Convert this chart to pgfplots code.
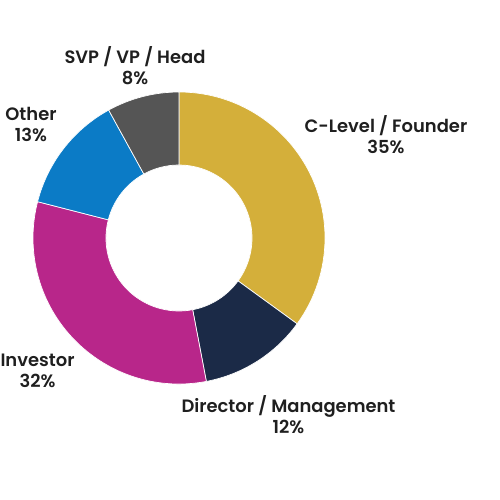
\documentclass[border=0pt]{standalone}
\usepackage{pgfplots}
\usepackage{pgfplotstable}
\pgfplotsset{compat=1.18}
\usepackage{fontspec}
\setmainfont{Poppins}[BoldFont={* SemiBold}]
\definecolor{col0}{HTML}{D4AF3A}
\definecolor{col1}{HTML}{1B2A47}
\definecolor{col2}{HTML}{B8268A}
\definecolor{col3}{HTML}{0B7BC6}
\definecolor{col4}{HTML}{555555}
\definecolor{txt}{HTML}{1F1F1F}
\pgfplotstableread[col sep=comma]{
label,value
C-Level / Founder,35
Director / Management,12
Investor,32
Other,13
SVP / VP / Head,8
}\slices
\xdef\cum{90}
\pgfplotsforeachungrouped \i in {0,...,4}{%
  \pgfplotstablegetelem{\i}{value}\of\slices
  \pgfmathsetmacro\newa{\cum-3.6*\pgfplotsretval}%
  \expandafter\xdef\csname sa\i\endcsname{\cum}%
  \expandafter\xdef\csname ea\i\endcsname{\newa}%
  \xdef\cum{\newa}%
}
\def\Ro{105.12pt}
\def\Ri{52.56pt}
\begin{document}
\begin{tikzpicture}
\begin{axis}[
  scale only axis, width=360pt, height=360pt,
  xmin=0, xmax=500, ymin=0, ymax=500,
  hide axis, clip=false,
]
\path (axis cs:0,0) rectangle (axis cs:500,500);
\pgfplotsinvokeforeach{0,...,4}{%
  \fill[col#1, draw=white, line width=0.5pt, shift={(axis cs:179,262)}]
    (\csname sa#1\endcsname:\Ro) arc[start angle=\csname sa#1\endcsname, end angle=\csname ea#1\endcsname, radius=\Ro]
    -- (\csname ea#1\endcsname:\Ri) arc[start angle=\csname ea#1\endcsname, end angle=\csname sa#1\endcsname, radius=\Ri] -- cycle;
}
\tikzset{lab/.style={align=center, text=txt, font=\fontsize{12.9}{15.1}\selectfont\bfseries, inner sep=0pt}}
\node[lab] at (axis cs:135,434.5) {SVP / VP / Head\\8\%};
\node[lab] at (axis cs:386,365.5) {C-Level / Founder\\35\%};
\node[lab] at (axis cs:31,375.5) {Other\\13\%};
\node[lab] at (axis cs:37.5,129) {Investor\\32\%};
\node[lab] at (axis cs:288.5,85.5) {Director / Management\\12\%};
\end{axis}
\end{tikzpicture}
\end{document}
